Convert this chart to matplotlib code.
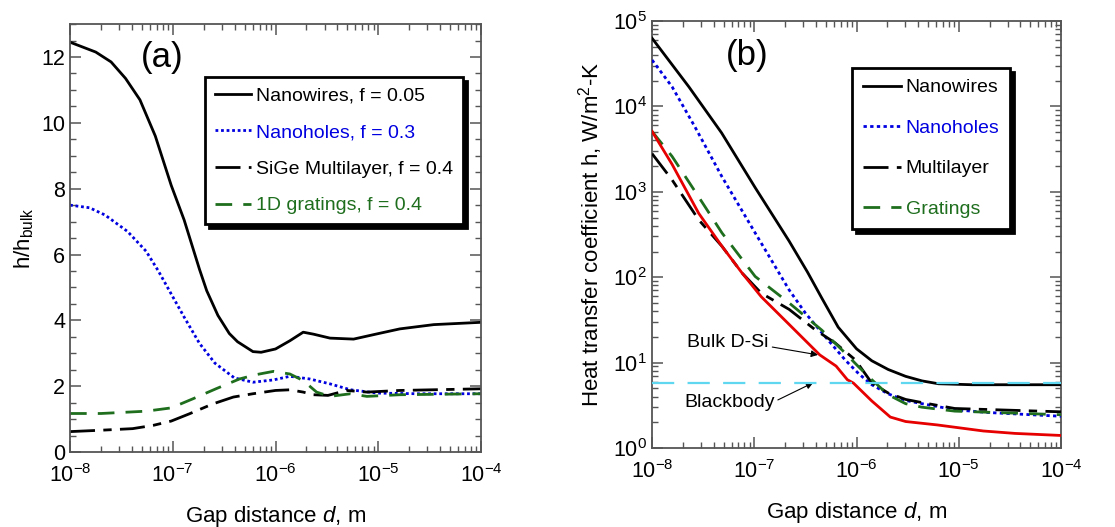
import numpy as np
import matplotlib
matplotlib.use("Agg")
from matplotlib import pyplot as plt
from matplotlib.ticker import LogLocator, MultipleLocator, NullFormatter

plt.rcParams['font.family'] = ['Liberation Sans', 'DejaVu Sans']
plt.rcParams['mathtext.fontset'] = 'custom'
plt.rcParams['mathtext.rm'] = 'Liberation Sans'
plt.rcParams['mathtext.it'] = 'Liberation Sans:italic'

# ---- panel (a): h/h_bulk vs gap distance d (m)
d_nw_a = [1e-8, 1.78e-8, 2.51e-8, 3.47e-8, 4.79e-8, 6.76e-8, 9.66e-8, 1.29e-7,
          1.82e-7, 2.14e-7, 2.75e-7, 3.55e-7, 4.27e-7, 6.03e-7, 7.24e-7, 1e-6,
          1.38e-6, 1.86e-6, 2.34e-6, 3.39e-6, 5.75e-6, 9.77e-6, 1.62e-5,
          3.47e-5, 1e-4]
h_nw_a = [12.45, 12.15, 11.85, 11.35, 10.7, 9.6, 8.1, 7.05, 5.55, 4.9, 4.15,
          3.6, 3.35, 3.05, 3.03, 3.13, 3.38, 3.64, 3.58, 3.46, 3.43, 3.59, 3.74,
          3.87, 3.94]

d_nh_a = [1e-8, 1.55e-8, 2.19e-8, 3.63e-8, 5.5e-8, 7.24e-8, 9.66e-8, 1.29e-7,
          1.82e-7, 2.57e-7, 3.98e-7, 6.03e-7, 9.55e-7, 1.38e-6, 2.14e-6,
          3.39e-6, 5.37e-6, 9.77e-6, 2.4e-5, 1e-4]
h_nh_a = [7.5, 7.42, 7.2, 6.7, 6.1, 5.5, 4.8, 4.1, 3.3, 2.7, 2.25, 2.12, 2.19,
          2.3, 2.22, 2.07, 1.89, 1.79, 1.77, 1.77]

d_ml_a = [1e-8, 1.95e-8, 4.07e-8, 6.46e-8, 9.66e-8, 1.45e-7, 2.45e-7, 3.89e-7,
          6.03e-7, 1e-6, 1.38e-6, 1.86e-6, 2.34e-6, 3.24e-6, 4.9e-6, 7.76e-6,
          1.62e-5, 1e-4]
h_ml_a = [0.62, 0.66, 0.71, 0.81, 0.94, 1.16, 1.46, 1.67, 1.77, 1.87, 1.89,
          1.82, 1.74, 1.72, 1.87, 1.82, 1.87, 1.92]

d_gr_a = [1e-8, 2e-8, 5.5e-8, 9.66e-8, 1.58e-7, 2.63e-7, 4.47e-7, 6.46e-7,
          9.55e-7, 1.38e-6, 1.86e-6, 2.51e-6, 3.39e-6, 5.37e-6, 7.76e-6,
          1.62e-5, 1e-4]
h_gr_a = [1.17, 1.17, 1.24, 1.34, 1.62, 1.92, 2.22, 2.35, 2.45, 2.37, 2.17,
          1.82, 1.69, 1.77, 1.69, 1.74, 1.77]

# ---- panel (b): heat transfer coefficient h (W/m2-K) vs gap distance d (m)
d_nw_b = [1e-8, 2.29e-8, 4.79e-8, 1.02e-7, 2.19e-7, 3.31e-7, 4.57e-7, 6.61e-7,
          1e-6, 1.41e-6, 2.04e-6, 3.02e-6, 4.37e-6, 6.31e-6, 1.35e-5, 1e-4]
h_nw_b = [6.3e4, 1.7e4, 4.9e3, 1.12e3, 265, 115, 57, 26, 14.5, 10.5, 8.3, 6.9,
          6.1, 5.65, 5.5, 5.5]

d_nh_b = [1e-8, 1.57e-8, 2.63e-8, 4.83e-8, 1.02e-7, 2.19e-7, 3.16e-7, 4.57e-7,
          7.76e-7, 1.05e-6, 1.41e-6, 2.04e-6, 3.02e-6, 4.37e-6, 9.12e-6,
          1.95e-5, 1e-4]
h_nh_b = [3.5e4, 1.7e4, 5.75e3, 1.5e3, 330, 71, 38, 22.4, 10.7, 7.4, 5.5, 4.3,
          3.6, 3.3, 2.8, 2.6, 2.35]

d_ml_b = [1e-8, 1.57e-8, 2.86e-8, 4.83e-8, 7.59e-8, 1.17e-7, 2.19e-7, 3.98e-7,
          6.17e-7, 9.77e-7, 1.41e-6, 2.04e-6, 3.02e-6, 4.37e-6, 9.12e-6, 1e-4]
h_ml_b = [2.8e3, 1.38e3, 470, 230, 112, 65, 42, 24, 17, 10.7, 5.75, 4.4, 3.7,
          3.4, 2.9, 2.65]

d_gr_b = [1e-8, 1.57e-8, 2.86e-8, 4.83e-8, 1.02e-7, 2.19e-7, 4.57e-7, 7.76e-7,
          1.05e-6, 1.41e-6, 2.04e-6, 3.02e-6, 4.37e-6, 9.12e-6, 1e-4]
h_gr_b = [5.1e3, 2.6e3, 870, 330, 102, 50, 24, 12.9, 8.9, 6.3, 4.2, 3.3, 3.0,
          2.7, 2.45]

d_si_b = [1e-8, 1.57e-8, 2.86e-8, 4.83e-8, 7.59e-8, 1.17e-7, 2.19e-7, 4.37e-7,
          6.31e-7, 8.13e-7, 9.33e-7, 1.41e-6, 2.14e-6, 3.02e-6, 6.17e-6,
          1.74e-5, 3.55e-5, 1e-4]
h_si_b = [5.1e3, 2.1e3, 560, 230, 112, 59, 28, 12.3, 9.1, 6.3, 5.75, 3.55,
          2.3, 2.04, 1.86, 1.58, 1.48, 1.4]

blackbody_h = 5.8

spine_col = '#555555'
blue = '#0000e0'
green = '#1e6e1e'


def style_axes(ax):
    for s in ax.spines.values():
        s.set_color(spine_col)
        s.set_linewidth(1.3)
    ax.tick_params(which='both', direction='in', top=True, right=True,
                   colors=spine_col, labelcolor='black', labelsize=15.5)
    ax.tick_params(which='major', length=8, width=1.1)
    ax.tick_params(which='minor', length=4.5, width=1.0)
    ax.tick_params(axis='x', which='major', pad=9)
    ax.set_xscale('log')
    ax.set_xlim(1e-8, 1e-4)
    ax.xaxis.set_major_locator(LogLocator(base=10, numticks=10))
    ax.xaxis.set_minor_locator(LogLocator(base=10, subs=np.arange(2, 10), numticks=20))
    ax.xaxis.set_minor_formatter(NullFormatter())
    ax.set_xlabel('Gap distance $\\it{d}$, m', fontsize=16, labelpad=12)


fig = plt.figure(figsize=(11.15, 5.27), dpi=100)
ax1 = fig.add_axes([0.0628, 0.1423, 0.3686, 0.812])
ax2 = fig.add_axes([0.5848, 0.150, 0.3668, 0.810])

lw = 2.0
ml_dash = (0, (9, 3, 3, 3))

# panel (a)
ax1.plot(d_nw_a, h_nw_a, color='black', lw=lw, label='Nanowires, f = 0.05')
ax1.plot(d_nh_a, h_nh_a, color=blue, lw=lw, ls=(0, (1, 1)), label='Nanoholes, f = 0.3')
ax1.plot(d_ml_a, h_ml_a, color='black', lw=lw, ls=ml_dash, label='SiGe Multilayer, f = 0.4')
ax1.plot(d_gr_a, h_gr_a, color=green, lw=lw, ls=(0, (6, 4)), label='1D gratings, f = 0.4')
style_axes(ax1)
ax1.set_ylim(0, 13)
ax1.yaxis.set_major_locator(MultipleLocator(2))
ax1.yaxis.set_minor_locator(MultipleLocator(0.5))
ax1.set_ylabel('h/h$_{\\rm bulk}$', fontsize=16, labelpad=4)
ax1.text(0.224, 0.922, '(a)', transform=ax1.transAxes, fontsize=25, ha='center', va='center')
leg1 = ax1.legend(loc='upper left', bbox_to_anchor=(0.328, 0.876), fontsize=14,
                  frameon=True, fancybox=False, edgecolor='black', handlelength=1.9,
                  handletextpad=0.25, labelspacing=0.98, borderpad=0.5,
                  borderaxespad=0,
                  shadow={'color': 'black', 'alpha': 1.0, 'ox': 3, 'oy': -3})
leg1.get_frame().set_linewidth(2.0)
for t, c in zip(leg1.get_texts(), ['black', blue, 'black', green]):
    t.set_color(c)

# panel (b)
ax2.plot(d_nw_b, h_nw_b, color='black', lw=lw, label='Nanowires', zorder=3)
ax2.plot(d_nh_b, h_nh_b, color=blue, lw=lw, ls=(0, (1.2, 1.2)), label='Nanoholes', zorder=3)
ax2.plot(d_ml_b, h_ml_b, color='black', lw=lw, ls=ml_dash, label='Multilayer', zorder=3)
ax2.plot(d_gr_b, h_gr_b, color=green, lw=lw, ls=(0, (6, 4)), label='Gratings', zorder=3)
ax2.plot(d_si_b, h_si_b, color='#e60000', lw=lw, zorder=3)
ax2.axhline(blackbody_h, color='#5fd7f0', lw=1.6, ls=(0, (10, 6)), zorder=4)
style_axes(ax2)
ax2.set_yscale('log')
ax2.set_ylim(1, 1e5)
ax2.yaxis.set_major_locator(LogLocator(base=10, numticks=10))
ax2.yaxis.set_minor_locator(LogLocator(base=10, subs=np.arange(2, 10), numticks=20))
ax2.yaxis.set_minor_formatter(NullFormatter())
ax2.set_ylabel('Heat transfer coefficient h, W/m$^2$-K', fontsize=16, labelpad=6)
ax2.text(0.232, 0.92, '(b)', transform=ax2.transAxes, fontsize=25, ha='center', va='center')
leg2 = ax2.legend(loc='upper left', bbox_to_anchor=(0.489, 0.89), fontsize=14,
                  frameon=True, fancybox=False, edgecolor='black', handlelength=1.95,
                  handletextpad=0.25, labelspacing=1.18, borderpad=0.55,
                  borderaxespad=0,
                  shadow={'color': 'black', 'alpha': 1.0, 'ox': 3, 'oy': -3})
leg2.get_frame().set_linewidth(2.0)
for t, c in zip(leg2.get_texts(), ['black', blue, 'black', green]):
    t.set_color(c)

arrow = dict(arrowstyle='-|>', color='black', lw=0.8, mutation_scale=10,
             shrinkA=0, shrinkB=0)
ax2.text(5.5e-8, 17, 'Bulk D-Si', fontsize=14, ha='center', va='center')
ax2.annotate('', xy=(4.2e-7, 12.3), xytext=(1.5e-7, 15.2), arrowprops=arrow)
ax2.text(5.7e-8, 3.4, 'Blackbody', fontsize=14, ha='center', va='center')
ax2.annotate('', xy=(3.76e-7, 5.8), xytext=(1.7e-7, 3.65), arrowprops=arrow)

fig.savefig('out.png', dpi=100)
